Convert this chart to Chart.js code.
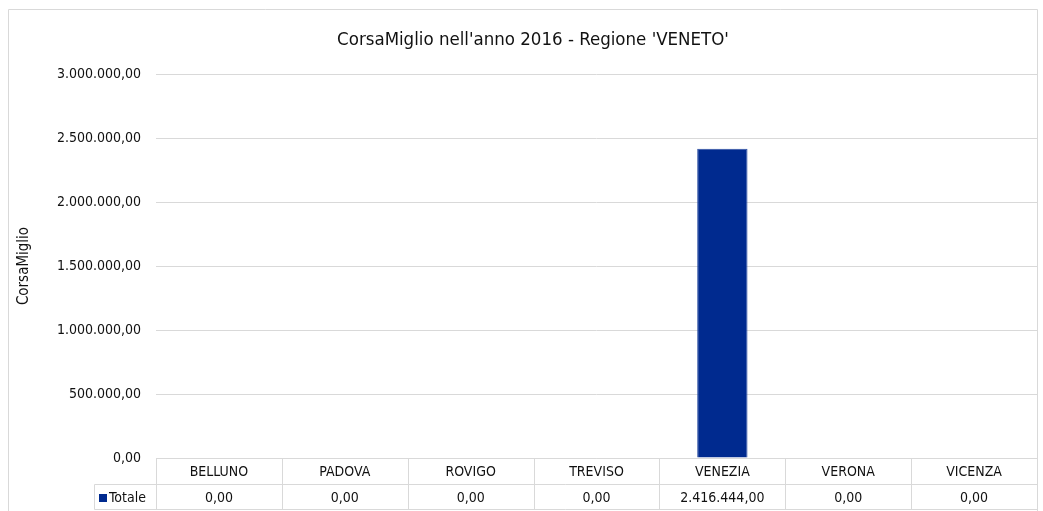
<!DOCTYPE html>
<html>
<head>
<meta charset="utf-8">
<script src="https://cdn.jsdelivr.net/npm/chart.js@4/dist/chart.umd.min.js"></script>
<style>
  html, body { margin: 0; padding: 0; background: #fff; }
  #wrap { position: relative; width: 1043px; height: 511px; }
</style>
</head>
<body>
<div id="wrap"><canvas id="c" width="1043" height="511"></canvas></div>
<script>
const categories = ['BELLUNO', 'PADOVA', 'ROVIGO', 'TREVISO', 'VENEZIA', 'VERONA', 'VICENZA'];
const seriesName = 'Totale';
const values = [0, 0, 0, 0, 2416444, 0, 0];
const yTicks = [0, 500000, 1000000, 1500000, 2000000, 2500000, 3000000];
const titleText = "CorsaMiglio nell'anno 2016 - Regione 'VENETO'";
const yTitle = 'CorsaMiglio';

const FONT = "'Liberation Sans Narrow', 'DejaVu Sans Condensed', 'Roboto', sans-serif";
const GRID = '#d9d9d9';
const BAR = '#002a8f';
const TXT = '#111';

function fmt(v) {
  const s = Math.round(v).toString().replace(/\B(?=(\d{3})+(?!\d))/g, '.');
  return s + ',00';
}

const frame = {
  id: 'frame',
  beforeDraw(chart) {
    const ctx = chart.ctx;
    ctx.save();
    ctx.strokeStyle = GRID;
    ctx.lineWidth = 1;
    ctx.beginPath();
    ctx.moveTo(8.5, 600);
    ctx.lineTo(8.5, 9.5);
    ctx.lineTo(1037.5, 9.5);
    ctx.lineTo(1037.5, 600);
    ctx.stroke();
    ctx.fillStyle = TXT;
    ctx.font = '18.5px ' + FONT;
    ctx.textAlign = 'center';
    ctx.textBaseline = 'middle';
    ctx.fillText(titleText, 533, 40);
    ctx.restore();
  }
};

const dataTable = {
  id: 'dataTable',
  afterDraw(chart) {
    const ctx = chart.ctx;
    const xs = chart.scales.x;
    const area = chart.chartArea;
    const n = categories.length;
    const colW = (area.right - area.left) / n;
    const top = Math.round(area.bottom) + 0.5;
    const mid = top + 26;
    const bot = top + 51;
    const legL = 94.5;
    ctx.save();
    ctx.strokeStyle = GRID;
    ctx.lineWidth = 1;
    ctx.beginPath();
    ctx.moveTo(area.left, top); ctx.lineTo(area.right, top);
    ctx.moveTo(legL, mid); ctx.lineTo(area.right, mid);
    ctx.moveTo(legL, bot); ctx.lineTo(area.right, bot);
    ctx.moveTo(legL, mid); ctx.lineTo(legL, bot);
    for (let i = 0; i <= n; i++) {
      const x = Math.round(area.left + i * colW) + 0.5;
      ctx.moveTo(x, top); ctx.lineTo(x, bot);
    }
    ctx.stroke();
    ctx.fillStyle = TXT;
    ctx.font = '14px ' + FONT;
    ctx.textAlign = 'center';
    ctx.textBaseline = 'middle';
    categories.forEach((c, i) => {
      const cx = xs.getPixelForValue(i);
      ctx.fillText(c, cx, (top + mid) / 2 + 1);
      ctx.fillText(fmt(values[i]), cx, (mid + bot) / 2 + 1);
    });
    ctx.fillStyle = BAR;
    ctx.fillRect(99, (mid + bot) / 2 - 3, 8, 8);
    ctx.fillStyle = TXT;
    ctx.textAlign = 'left';
    ctx.fillText(seriesName, 109, (mid + bot) / 2 + 1);
    ctx.restore();
  }
};

new Chart(document.getElementById('c'), {
  type: 'bar',
  data: {
    labels: categories,
    datasets: [{
      label: seriesName,
      data: values,
      backgroundColor: BAR,
      borderColor: '#2c4ea3',
      borderWidth: 1,
      categoryPercentage: 1,
      barPercentage: 0.4
    }]
  },
  options: {
    responsive: false,
    animation: false,
    devicePixelRatio: 1,
    layout: { padding: { top: 74, right: 6, bottom: 53, left: 0 } },
    plugins: {
      legend: { display: false },
      tooltip: { enabled: false },
      title: { display: false }
    },
    scales: {
      x: { display: false },
      y: {
        min: 0,
        max: 3000000,
        afterBuildTicks(scale) { scale.ticks = yTicks.map(v => ({ value: v })); },
        afterFit(scale) { scale.width = 156; },
        border: { display: false },
        grid: { color: GRID, drawTicks: false },
        ticks: {
          padding: 15,
          color: TXT,
          font: { family: FONT, size: 14 },
          callback: v => fmt(v)
        },
        title: {
          display: true,
          text: yTitle,
          color: TXT,
          font: { family: FONT, size: 15 },
          padding: { top: 15, bottom: 0 }
        }
      }
    }
  },
  plugins: [frame, dataTable]
});
</script>
</body>
</html>
